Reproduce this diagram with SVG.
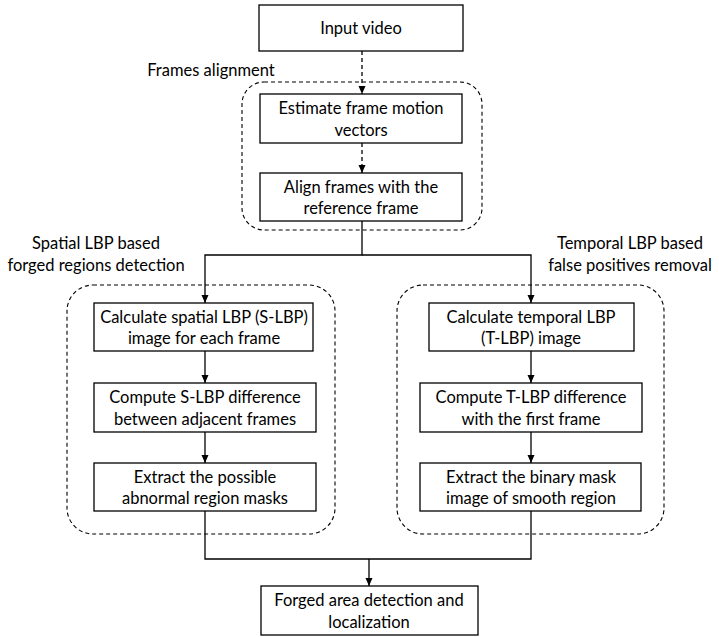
<svg xmlns="http://www.w3.org/2000/svg" width="719" height="637" viewBox="0 0 719 637">
<defs>
<marker id="ah" viewBox="0 0 8 8" refX="8" refY="4" markerWidth="8" markerHeight="8" markerUnits="userSpaceOnUse" orient="auto">
<path d="M0,0.5 L8,4 L0,7.5 Z" fill="#000"/>
</marker>
<style>
.box{fill:#fff;stroke:#000;stroke-width:1.3}
.grp{fill:none;stroke:#000;stroke-width:1.1;stroke-dasharray:4 3}
.t{font-family:Lato,"Liberation Sans",sans-serif;font-size:16.5px;fill:#000;text-anchor:middle;dominant-baseline:central}
.c{fill:none;stroke:#000;stroke-width:1.3}
.d{fill:none;stroke:#000;stroke-width:1.3;stroke-dasharray:4 3}
</style>
</defs>
<rect width="719" height="637" fill="#fff"/>
<g id="groups">
<g id="g-frames"><rect class="grp" x="242" y="82" width="240" height="148" rx="22"/><text class="t" x="211" y="70">Frames alignment</text></g>
<g id="g-spatial"><rect class="grp" x="67" y="285" width="268" height="249" rx="26"/><text class="t" x="96" y="243">Spatial LBP based</text><text class="t" x="96" y="265">forged regions detection</text></g>
<g id="g-temporal"><rect class="grp" x="397" y="285" width="267" height="249" rx="26"/><text class="t" x="630" y="243">Temporal LBP based</text><text class="t" x="630" y="265">false positives removal</text></g>
</g>
<g id="connectors">
<path class="d" d="M362,51 V94" marker-end="url(#ah)"/>
<path class="d" d="M362,143 V173" marker-end="url(#ah)"/>
<path class="c" d="M362,221 V255 H205 V303" marker-end="url(#ah)"/>
<path class="c" d="M362,255 H531 V303" marker-end="url(#ah)"/>
<path class="c" d="M205,351 V383" marker-end="url(#ah)"/>
<path class="c" d="M205,432 V463" marker-end="url(#ah)"/>
<path class="c" d="M531,351 V383" marker-end="url(#ah)"/>
<path class="c" d="M531,432 V463" marker-end="url(#ah)"/>
<path class="c" d="M205,511 V559 H531 V511"/>
<path class="c" d="M369,559 V586" marker-end="url(#ah)"/>
</g>
<g id="n-input"><rect class="box" x="259" y="5" width="204" height="46"/><text class="t" x="361" y="28">Input video</text></g>
<g id="n-estimate"><rect class="box" x="260" y="94" width="202" height="49"/><text class="t" x="361" y="108">Estimate frame motion</text><text class="t" x="361" y="130">vectors</text></g>
<g id="n-align"><rect class="box" x="260" y="173" width="202" height="48"/><text class="t" x="361" y="187">Align frames with the</text><text class="t" x="361" y="208">reference frame</text></g>
<g id="n-sc"><rect class="box" x="94" y="303" width="219" height="48"/><text class="t" x="204" y="317">Calculate spatial LBP (S-LBP)</text><text class="t" x="204" y="338">image for each frame</text></g>
<g id="n-sd"><rect class="box" x="94" y="383" width="222" height="49"/><text class="t" x="205" y="397">Compute S-LBP difference</text><text class="t" x="205" y="419">between adjacent frames</text></g>
<g id="n-se"><rect class="box" x="94" y="463" width="222" height="48"/><text class="t" x="205" y="477">Extract the possible</text><text class="t" x="205" y="498">abnormal region masks</text></g>
<g id="n-tc"><rect class="box" x="429" y="303" width="205" height="48"/><text class="t" x="531" y="317">Calculate temporal LBP</text><text class="t" x="531" y="338">(T-LBP) image</text></g>
<g id="n-td"><rect class="box" x="420" y="383" width="222" height="49"/><text class="t" x="531" y="397">Compute T-LBP difference</text><text class="t" x="531" y="419">with the first frame</text></g>
<g id="n-te"><rect class="box" x="420" y="463" width="221" height="48"/><text class="t" x="531" y="477">Extract the binary mask</text><text class="t" x="531" y="498">image of smooth region</text></g>
<g id="n-out"><rect class="box" x="261" y="586" width="217" height="49"/><text class="t" x="369" y="600">Forged area detection and</text><text class="t" x="369" y="622">localization</text></g>
</svg>
